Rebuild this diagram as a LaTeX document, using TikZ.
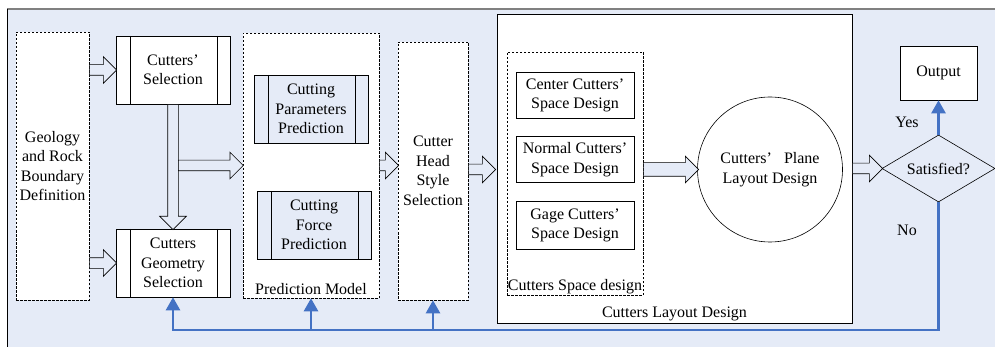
\documentclass[tikz,border=0pt]{standalone}
\usepackage{fontspec}
\setmainfont{Liberation Serif}
\usepackage{tikz}
\usetikzlibrary{shapes.geometric, shapes.arrows, arrows.meta, positioning}
\definecolor{bgblue}{RGB}{229,235,247}
\definecolor{fbblue}{RGB}{68,114,196}
\tikzstyle{dashbox} = [draw, dash pattern=on 2.5pt off 1.5pt, fill=white, inner sep=0pt, align=center]
\tikzstyle{plainbox} = [draw, fill=white, inner sep=0pt, align=center]
\tikzstyle{proc} = [draw, fill=white, minimum width=114pt, minimum height=68pt, inner sep=0pt, align=center, path picture={\draw ([xshift=14pt]path picture bounding box.north west) -- ([xshift=14pt]path picture bounding box.south west); \draw ([xshift=-13pt]path picture bounding box.north east) -- ([xshift=-13pt]path picture bounding box.south east);}]
\tikzstyle{hollow} = [single arrow, draw, fill=bgblue, inner xsep=0pt, inner ysep=5pt, single arrow head extend=8pt, single arrow head indent=0pt, anchor=tail]
\tikzstyle{feedback} = [line width=2.5pt, fbblue, -{Triangle[width=14pt, length=13pt]}]

\begin{document}
\begin{tikzpicture}[x=1pt, y=-1pt, line width=0.6pt, every node/.style={font=\fontsize{16}{19.5}\selectfont}]
    \useasboundingbox (0,0) rectangle (995,347);
    \fill[bgblue] (7,9) rectangle (995,347);
    \draw[gray, line width=1.5pt] (7,9) -- (995,9);
    \draw[black] (7,9) -- (7,347);

    \node (geo) [dashbox, minimum width=73pt, minimum height=268pt] at (52.5,166) {Geology\\and Rock\\Boundary\\Definition};
    \node (sel) [proc] at (173,70) {Cutters’\\Selection};
    \node (geom) [proc] at (173,263) {Cutters\\Geometry\\Selection};

    \node (pm) [dashbox, minimum width=136pt, minimum height=265pt] at (311,165.5) {};
    \node (par) [proc, fill=bgblue] at (311,109) {Cutting\\Parameters\\Prediction};
    \node (force) [proc, fill=bgblue] at (314,225) {Cutting\\Force\\Prediction};
    \node (pmlabel) [anchor=south, inner sep=3pt] at (pm.south) {Prediction Model};

    \node (head) [dashbox, minimum width=70pt, minimum height=258pt] at (433,171) {Cutter\\Head\\Style\\Selection};

    \node (cld) [plainbox, minimum width=355pt, minimum height=309pt] at (674.5,168.5) {};
    \node (cldlabel) [anchor=south, inner sep=2pt] at (cld.south) {Cutters Layout Design};
    \node (csd) [dashbox, minimum width=136pt, minimum height=243pt] at (575,173.5) {};
    \node (csdlabel) [anchor=south, inner sep=1pt] at (csd.south) {Cutters Space design};
    \node (center) [plainbox, minimum width=118pt, minimum height=46pt] at (575,95.5) {Center Cutters’\\Space Design};
    \node (normal) [plainbox, minimum width=118pt, minimum height=46pt] at (575,159.5) {Normal Cutters’\\Space Design};
    \node (gage) [plainbox, minimum width=118pt, minimum height=48pt] at (575,225.5) {Gage Cutters’\\Space Design};
    \node (plane) [circle, draw, fill=white, minimum size=145pt, inner sep=0pt, align=center] at (770,169.5) {Cutters’~~~Plane\\Layout Design};

    \node (sat) [diamond, draw, shape aspect=1.7, minimum width=113pt, minimum height=67pt, inner sep=1pt] at (938.5,168.5) {Satisfied?};
    \node (out) [plainbox, minimum width=77pt, minimum height=54pt] at (938.5,73) {Output};
    \node (yes) at (907,122) {Yes};
    \node (no) at (907,230) {No};

    \node (a1) [hollow, minimum height=27pt] at (geo.east |- sel.west) {};
    \node (a2) [hollow, minimum height=27pt] at (geo.east |- geom.west) {};
    \node (a3) [hollow, shape border rotate=270, inner xsep=5pt, inner ysep=0pt, minimum height=125pt] at (sel.south) {};
    \node (a4) [hollow, minimum height=65pt] at ([xshift=5pt]a3.center |- pm.west) {};
    \node (a5) [hollow, minimum height=19pt] at (pm.east) {};
    \node (a6) [hollow, minimum height=27pt] at (head.east |- plane.west) {};
    \node (a7) [hollow, minimum height=55pt, inner ysep=6.5pt, single arrow head extend=6.5pt] at (csd.east |- plane.west) {};
    \node (a8) [hollow, minimum height=30pt] at (cld.east |- sat.west) {};

    \coordinate (low) at (0,330);
    \draw [feedback] (sat.north) -- (out.south);
    \draw [feedback] (sat.south) -- (sat.south |- low) -| (geom.south);
    \draw [feedback] (pm.south |- low) -- (pm.south);
    \draw [feedback] (head.south |- low) -- (head.south);
\end{tikzpicture}
\end{document}
